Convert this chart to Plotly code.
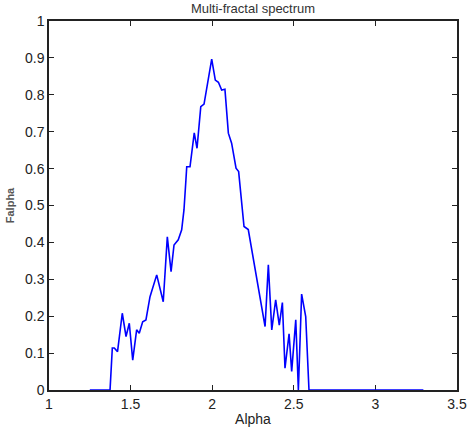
import plotly.graph_objects as go

alpha = [1.25, 1.374, 1.388, 1.40, 1.42, 1.449, 1.472, 1.492, 1.513, 1.537, 1.553, 1.574,
         1.594, 1.619, 1.660, 1.700, 1.725, 1.748, 1.766, 1.792, 1.813, 1.827, 1.839,
         1.844, 1.864, 1.890, 1.907, 1.930, 1.950, 1.997, 2.019, 2.038, 2.058, 2.078,
         2.099, 2.119, 2.146, 2.162, 2.195, 2.221, 2.324, 2.344, 2.365, 2.389, 2.411,
         2.430, 2.446, 2.471, 2.487, 2.512, 2.528, 2.548, 2.573, 2.593, 3.294]
falpha = [0.0, 0.0, 0.114, 0.114, 0.104, 0.208, 0.145, 0.181, 0.081, 0.163, 0.154, 0.185,
          0.190, 0.253, 0.312, 0.239, 0.415, 0.321, 0.393, 0.407, 0.434, 0.488, 0.569,
          0.605, 0.605, 0.697, 0.655, 0.768, 0.775, 0.897, 0.840, 0.834, 0.813, 0.815,
          0.696, 0.669, 0.601, 0.592, 0.443, 0.435, 0.172, 0.339, 0.163, 0.244, 0.176,
          0.237, 0.059, 0.152, 0.050, 0.190, 0.0, 0.260, 0.199, 0.0, 0.0]

x_ticks = [1, 1.5, 2, 2.5, 3, 3.5]
x_labels = ["1", "1.5", "2", "2.5", "3", "3.5"]
y_ticks = [0, 0.1, 0.2, 0.3, 0.4, 0.5, 0.6, 0.7, 0.8, 0.9, 1]
y_labels = ["0", "0.1", "0.2", "0.3", "0.4", "0.5", "0.6", "0.7", "0.8", "0.9", "1"]

fig = go.Figure()
fig.add_trace(go.Scatter(x=alpha, y=falpha, mode="lines", cliponaxis=False,
                         line=dict(color="#0000ff", width=1.6), showlegend=False))

font = "Liberation Sans, Arial, sans-serif"
fig.update_layout(
    width=472, height=434,
    margin=dict(l=49, r=15, t=21, b=44),
    paper_bgcolor="white", plot_bgcolor="white",
    font=dict(family=font, size=14, color="#222"),
    title=dict(text="Multi-fractal spectrum", xref="paper", x=0.5, xanchor="center",
               y=0.99, yanchor="top", font=dict(size=13, color="#333")),
    xaxis=dict(range=[1, 3.5], tickvals=x_ticks, ticktext=x_labels, automargin=False,
               showgrid=False, zeroline=False, showline=True, mirror="ticks",
               linecolor="#222", linewidth=1.5, ticks="inside", ticklen=5,
               tickcolor="#222", tickwidth=1.2, layer="below traces",
               title=dict(text="Alpha", font=dict(size=14), standoff=4)),
    yaxis=dict(range=[0, 1], tickvals=y_ticks, ticktext=y_labels, automargin=False,
               showgrid=False, zeroline=False, showline=True, mirror="ticks",
               linecolor="#222", linewidth=1.5, ticks="inside", ticklen=5,
               tickcolor="#222", tickwidth=1.2, layer="below traces",
               title=dict(text="<b>Falpha</b>", font=dict(size=11, color="#555"), standoff=8)),
)

fig.write_html("out.html")
